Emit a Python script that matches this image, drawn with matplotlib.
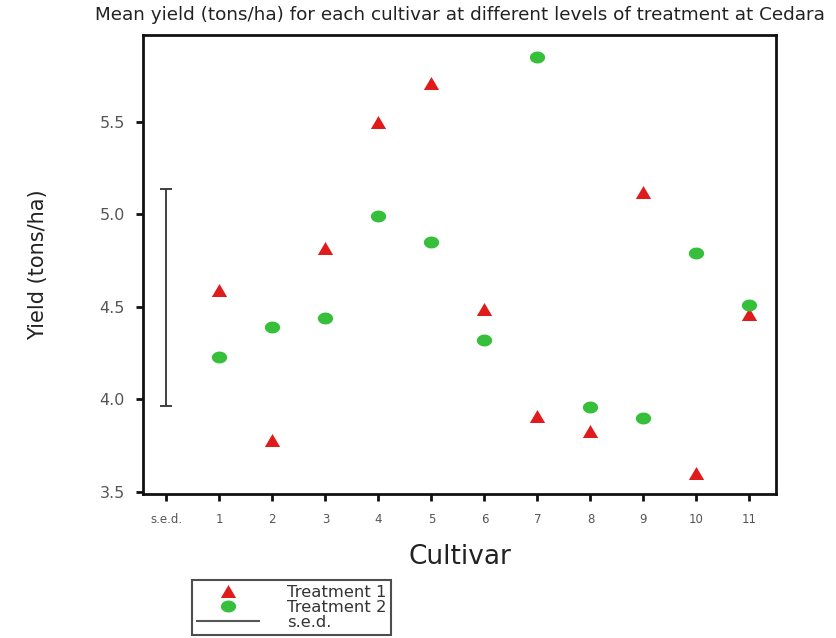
import numpy as np
import matplotlib
matplotlib.use("Agg")
import matplotlib.pyplot as plt
from matplotlib.path import Path
from matplotlib.lines import Line2D

# ---- data ----
cultivars = [1, 2, 3, 4, 5, 6, 7, 8, 9, 10, 11]
x_tick_labels = ["s.e.d.", "1", "2", "3", "4", "5", "6", "7", "8", "9", "10", "11"]
treatment1 = [4.59, 3.78, 4.82, 5.50, 5.71, 4.49, 3.91, 3.83, 5.12, 3.60, 4.46]
treatment2 = [4.23, 4.39, 4.44, 4.99, 4.85, 4.32, 5.85, 3.96, 3.90, 4.79, 4.51]
sed_center = 4.55
sed_value = 1.17
y_ticks = [3.5, 4.0, 4.5, 5.0, 5.5]

# ---- marker shapes (slightly wide, as in the reference) ----
theta = np.linspace(0, 2 * np.pi, 40)
ellipse = Path(np.column_stack([np.cos(theta), 0.78 * np.sin(theta)]), closed=True)
tri = Path([(0, 0.85), (-1, -0.85), (1, -0.85), (0, 0.85)], closed=True)

RED = "#e01b1b"
GREEN = "#35bf3a"

fig = plt.figure(figsize=(8.36, 6.38), dpi=100)
ax = fig.add_axes([143 / 836, 1 - 494 / 638, (776 - 143) / 836, (494 - 35) / 638])

ax.plot(cultivars, treatment1, linestyle="none", marker=tri, markersize=11,
        color=RED, markeredgewidth=0)
ax.plot(cultivars, treatment2, linestyle="none", marker=ellipse, markersize=11,
        color=GREEN, markeredgewidth=0)
ax.errorbar([0], [sed_center], yerr=[sed_value / 2], fmt="none",
            ecolor="#333333", elinewidth=1.3, capsize=4, capthick=1.3)

ax.set_xlim(-0.44, 11.5)
ax.set_ylim(3.487, 5.97)
ax.set_xticks(range(0, 12))
ax.set_xticklabels(x_tick_labels, fontsize=8.5, color="#555555")
ax.set_yticks(y_ticks)
ax.set_yticklabels([f"{v:.1f}" for v in y_ticks], fontsize=11.5, color="#555555")
ax.tick_params(axis="both", direction="out", length=5, width=2, color="#111111")
ax.tick_params(axis="x", pad=9)
ax.tick_params(axis="y", pad=8)
for s in ax.spines.values():
    s.set_linewidth(2)
    s.set_color("#111111")

ax.set_title("Mean yield (tons/ha) for each cultivar at different levels of treatment at Cedara",
             fontsize=13.2, color="#222222", pad=11)
ax.set_ylabel("Yield (tons/ha)", fontsize=15, color="#222222", labelpad=37)
ax.set_xlabel("Cultivar", fontsize=19, color="#222222", labelpad=13)

handles = [
    Line2D([], [], linestyle="none", marker=tri, markersize=11, color=RED, markeredgewidth=0),
    Line2D([], [], linestyle="none", marker=ellipse, markersize=11, color=GREEN, markeredgewidth=0),
    Line2D([], [], color="#555555", linewidth=1.5),
]
leg = fig.legend(handles, ["Treatment 1", "Treatment 2", "s.e.d."],
                 loc="upper left", bbox_to_anchor=(192 / 836, 1 - 580 / 638),
                 fontsize=11.8, frameon=True, fancybox=False, edgecolor="#222222",
                 handlelength=3.8, handletextpad=1.7, labelspacing=0.0,
                 borderpad=0.3, borderaxespad=0)
leg.get_frame().set_linewidth(1.5)
for t in leg.get_texts():
    t.set_color("#333333")

fig.savefig("out.png", dpi=100)
